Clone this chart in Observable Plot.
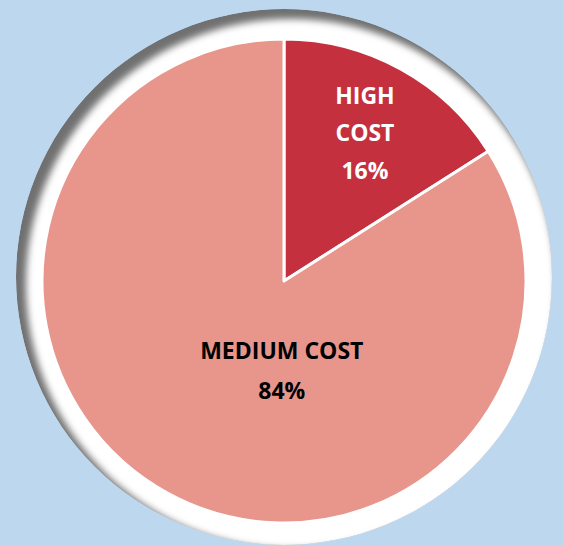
<!DOCTYPE html>
<html>
<head>
<meta charset="utf-8">
<script src="https://cdn.jsdelivr.net/npm/d3@7"></script>
<script src="https://cdn.jsdelivr.net/npm/@observablehq/plot@0.6"></script>
<style>
  html, body { margin: 0; padding: 0; background: #bdd7ee; }
  #chart { width: 563px; height: 546px; }
</style>
</head>
<body>
<div id="chart"></div>
<script>
// ---- data ----
const categories = ["HIGH COST", "MEDIUM COST"];
const shares = [16, 84];
const labelTexts = ["HIGH\nCOST\n16%", "MEDIUM COST\n84%"];
const sliceColors = ["#c5303e", "#e8968c"];
const labelColors = ["#ffffff", "#000000"];

const rows = categories.map((c, i) => ({category: c, share: shares[i], label: labelTexts[i]}));
const arcs = d3.pie().sort(null).value(d => d.share)(rows);

// label anchors (unit-radius coordinates, y up)
const placement = [
  {r: 0.69, angle: a => (a.startAngle + a.endAngle) / 2},
  {r: 0.376, angle: () => Math.PI + 0.03}
];
const labelRows = arcs.map((a, i) => {
  const ang = placement[i].angle(a);
  return {x: placement[i].r * Math.sin(ang), y: placement[i].r * Math.cos(ang), label: a.data.label, i};
});

const W = 563, H = 546, R = 242, CX = 284, CY = 281;

function pieMark(...args) {
  const scales = args.find(a => a && typeof a.x === "function" && typeof a.y === "function");
  const cx = scales.x(0), cy = scales.y(0);
  const r = Math.abs(scales.x(1) - scales.x(0));
  const svg = d3.create("svg:g");
  const defs = svg.append("defs");
  const blur = defs.append("filter").attr("id", "blurIn").attr("x", "-10%").attr("y", "-10%").attr("width", "120%").attr("height", "120%");
  blur.append("feGaussianBlur").attr("stdDeviation", 3.5);
  const dcx = cx, dcy = cy - 4, dr = 268;
  defs.append("clipPath").attr("id", "discClip").append("circle")
    .attr("cx", dcx).attr("cy", dcy).attr("r", dr);
  // disc with inner shadow at top-left
  const disc = svg.append("g").attr("clip-path", "url(#discClip)");
  disc.append("circle").attr("cx", dcx).attr("cy", dcy).attr("r", dr).attr("fill", "#707070");
  disc.append("circle").attr("cx", dcx + 7).attr("cy", dcy + 7).attr("r", dr - 3)
    .attr("fill", "#ffffff").attr("filter", "url(#blurIn)");
  // slices
  const arcGen = d3.arc().innerRadius(0).outerRadius(r);
  svg.append("g").attr("transform", `translate(${cx},${cy})`)
    .selectAll("path").data(arcs).join("path")
      .attr("d", arcGen)
      .attr("fill", (d, i) => sliceColors[i])
      .attr("stroke", "#ffffff")
      .attr("stroke-width", 3)
      .attr("stroke-linejoin", "round");
  return svg.node();
}

const chart = Plot.plot({
  width: W,
  height: H,
  margin: 0,
  style: {background: "#bdd7ee", fontFamily: "'Open Sans', sans-serif"},
  x: {domain: [-CX / R, (W - CX) / R], axis: null},
  y: {domain: [-(H - CY) / R, CY / R], axis: null},
  marks: [
    pieMark,
    Plot.text(labelRows.filter(d => d.i === 0), {
      x: "x", y: "y", text: "label", dy: -6,
      fill: labelColors[0], fontSize: 23, fontWeight: "bold", lineHeight: 1.63
    }),
    Plot.text(labelRows.filter(d => d.i === 1), {
      x: "x", y: "y", text: "label", dy: -6,
      fill: labelColors[1], fontSize: 23, fontWeight: "bold", lineHeight: 1.74
    })
  ]
});
document.getElementById("chart").appendChild(chart);
</script>
</body>
</html>
